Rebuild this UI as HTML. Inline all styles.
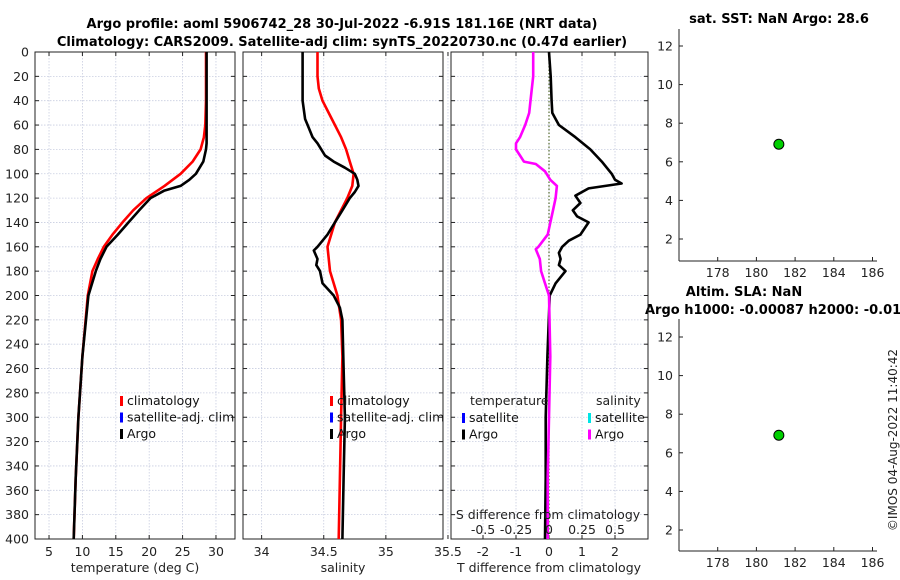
<!DOCTYPE html>
<html><head><meta charset="utf-8"><style>
html,body{margin:0;padding:0;background:#fff}
svg{display:block;font-family:"DejaVu Sans","Liberation Sans",sans-serif}
</style></head><body>
<svg id="fig" width="900" height="580" viewBox="0 0 900 580" xmlns="http://www.w3.org/2000/svg">
<text x="342" y="28" font-size="13" font-weight="bold" text-anchor="middle">Argo profile: aoml 5906742_28 30-Jul-2022 -6.91S 181.16E (NRT data)</text>
<text x="342" y="46" font-size="13" font-weight="bold" text-anchor="middle">Climatology: CARS2009. Satellite-adj clim: synTS_20220730.nc (0.47d earlier)</text>
<text x="779" y="23" font-size="13" font-weight="bold" text-anchor="middle">sat. SST: NaN Argo: 28.6</text>
<text x="744" y="296" font-size="13" font-weight="bold" text-anchor="middle">Altim. SLA: NaN</text>
<text x="645" y="314" font-size="13" font-weight="bold">Argo h1000: -0.00087 h2000: -0.01</text>
<text transform="translate(897,440) rotate(-90)" font-size="12" text-anchor="middle" fill="#222">©IMOS 04-Aug-2022 11:40:42</text>
</svg>
<script>
// ---- data ----
const depthTicks=[0,20,40,60,80,100,120,140,160,180,200,220,240,260,280,300,320,340,360,380,400];
const tempTicks=[5,10,15,20,25,30];
const salTicks=[34,34.5,35,35.5];
const tdTicks=[-2,-1,0,1,2];
const tdTickLabels=["-2","-1","0","1","2"];
const sdTicks=[-0.5,-0.25,0,0.25,0.5];
const sdTickLabels=["-0.5","-0.25","0","0.25","0.5"];
const argoTDepth=[0,20,40,60,75,80,90,100,105,110,114,120,130,140,150,160,170,180,200,250,300,350,400];
const argoT=[28.6,28.6,28.6,28.6,28.6,28.5,28.1,27.0,26.0,24.7,22.2,20.2,18.5,16.9,15.3,13.6,12.7,12.0,10.9,10.0,9.4,9.0,8.7];
const climTDepth=[0,20,40,60,70,80,90,100,110,120,130,140,150,160,170,180,200,250,300,350,400];
const climT=[28.5,28.5,28.5,28.4,28.2,27.7,26.5,24.7,22.3,19.6,17.6,16.0,14.5,13.2,12.3,11.5,10.8,10.0,9.4,9.0,8.7];
const argoSDepth=[0,20,40,55,60,70,75,80,85,90,95,100,105,110,115,120,130,140,150,155,160,163,170,175,180,190,200,210,220,260,300,350,400];
const argoS=[34.33,34.33,34.33,34.35,34.37,34.41,34.45,34.48,34.51,34.58,34.67,34.75,34.77,34.78,34.75,34.71,34.65,34.59,34.53,34.49,34.45,34.42,34.45,34.44,34.47,34.49,34.58,34.63,34.65,34.66,34.67,34.66,34.65];
const climSDepth=[0,20,30,40,50,60,70,80,90,100,110,120,140,160,180,200,220,250,300,350,400];
const climS=[34.45,34.45,34.46,34.49,34.54,34.59,34.64,34.68,34.71,34.74,34.73,34.69,34.59,34.53,34.55,34.61,34.64,34.65,34.64,34.63,34.62];
const tdDepth=[0,20,40,50,55,60,70,80,90,100,105,108,112,118,124,130,135,140,150,155,160,165,170,175,180,190,200,250,300,350,400];
const tdVal=[0.0,0.05,0.08,0.1,0.2,0.3,0.8,1.25,1.6,1.9,2.0,2.2,1.2,0.8,0.95,0.72,0.85,1.2,0.95,0.6,0.4,0.3,0.35,0.3,0.5,0.2,0.02,-0.05,-0.1,-0.1,-0.12];
const sdDepth=[0,20,40,50,60,70,75,80,85,90,92,98,105,110,120,130,150,160,162,170,180,190,200,250,300,350,400];
const sdVal=[-0.12,-0.12,-0.14,-0.15,-0.18,-0.22,-0.25,-0.25,-0.22,-0.19,-0.1,-0.03,0.01,0.06,0.05,0.03,-0.01,-0.08,-0.1,-0.07,-0.06,-0.03,0.0,0.01,0.0,-0.01,-0.01];
const mapXTicks=[178,180,182,184,186];
const mapYTicks=[2,4,6,8,10,12];
const argoLon=[181.16];
const argoLatAbs=[6.91];

const NS="http://www.w3.org/2000/svg";
const svg=document.getElementById('fig');
function mk(tag,attrs,parent){const e=document.createElementNS(NS,tag);for(const k in attrs)e.setAttribute(k,attrs[k]);(parent||svg).appendChild(e);return e;}
const Y0=52,Y1=539;
function yD(d){return Y0+d*(Y1-Y0)/400;}
function lin(a,b,p,q){return v=>p+(v-a)*(q-p)/(b-a);}

function profilePanel(name,x0,x1,xmin,xmax,ticks,labels,showDepthLabels){
  const g=mk('g',{});
  
  
  const sx=lin(xmin,xmax,x0,x1);
  ticks.forEach(t=>{const l=mk('line',{x1:sx(t),x2:sx(t),y1:Y0,y2:Y1,stroke:'#c8cde0','stroke-width':0.8,'stroke-dasharray':'1.5,1.5'},g);
    });
  depthTicks.forEach(d=>{const l=mk('line',{x1:x0,x2:x1,y1:yD(d),y2:yD(d),stroke:'#c8cde0','stroke-width':0.8,'stroke-dasharray':'1.5,1.5'},g);
    
    mk('line',{x1:x0,x2:x0+4,y1:yD(d),y2:yD(d),stroke:'#222'},g);mk('line',{x1:x1-4,x2:x1,y1:yD(d),y2:yD(d),stroke:'#222'},g);
    if(showDepthLabels){const t=mk('text',{x:x0-6,y:yD(d)+4.5,'font-size':12.5,'text-anchor':'end',fill:'#222'},g);t.textContent=d;
      }
  });
  ticks.forEach((t,i)=>{mk('line',{x1:sx(t),x2:sx(t),y1:Y1,y2:Y1-4,stroke:'#222'},g);mk('line',{x1:sx(t),x2:sx(t),y1:Y0,y2:Y0+4,stroke:'#222'},g);
    if(labels){const tx=mk('text',{x:sx(t),y:556,'font-size':12.5,'text-anchor':'middle',fill:'#222'},g);tx.textContent=labels[i];
      }});
  const r=mk('rect',{x:x0,y:Y0,width:x1-x0,height:Y1-Y0,fill:'none',stroke:'#222','stroke-width':1},g);
  
  return {g,sx};
}
function line(g,sx,vals,deps,color,name,w){
  const pts=vals.map((v,i)=>sx(v).toFixed(1)+','+yD(deps[i]).toFixed(1)).join(' ');
  const p=mk('polyline',{points:pts,fill:'none',stroke:color,'stroke-width':w||2.6,'stroke-linejoin':'round'},g);
  
}
function legend(g,x,y,items){
  items.forEach((it,i)=>{const yy=y+i*16.5;
    const b=mk('rect',{x:x,y:yy-8,width:3,height:10,fill:it[1]},g);
    
    const t=mk('text',{x:x+7,y:yy+1,'font-size':12.5,fill:'#111'},g);t.textContent=it[0];
    });
}
function txt(g,x,y,s,name,anchor){const t=mk('text',{x:x,y:y,'font-size':12.5,'text-anchor':anchor||'middle',fill:'#222'},g);t.textContent=s;
  return t;}

// temperature panel
const p1=profilePanel('temperature-panel',35,235,2.9,32.85,tempTicks,tempTicks.map(String),true);
line(p1.g,p1.sx,climT,climTDepth,'#ff0000','climatology-temperature-line');
line(p1.g,p1.sx,argoT,argoTDepth,'#000','argo-temperature-line');
legend(p1.g,120,404,[['climatology','#ff0000'],['satellite-adj. clim','#0000ff'],['Argo','#000']]);
txt(p1.g,135,572,'temperature (deg C)','temperature-axis-title');

// salinity panel
const p2=profilePanel('salinity-panel',243,443,33.85,35.46,salTicks,['34','34.5','35','35.5'],false);
line(p2.g,p2.sx,climS,climSDepth,'#ff0000','climatology-salinity-line');
line(p2.g,p2.sx,argoS,argoSDepth,'#000','argo-salinity-line');
legend(p2.g,330,404,[['climatology','#ff0000'],['satellite-adj. clim','#0000ff'],['Argo','#000']]);
txt(p2.g,343,572,'salinity','salinity-axis-title');

// difference panel
const p3=profilePanel('difference-panel',451,648,-2.97,3.0,tdTicks,tdTickLabels,false);
const z=mk('line',{x1:p3.sx(0),x2:p3.sx(0),y1:Y0,y2:Y1,stroke:'#556b2f','stroke-width':1.2,'stroke-dasharray':'1.5,2'},p3.g);

line(p3.g,p3.sx,tdVal,tdDepth,'#000','argo-temperature-difference-line');
const sxS=v=>p3.sx(v*4);
line(p3.g,sxS,sdVal,sdDepth,'#ff00ff','argo-salinity-difference-line');
txt(p3.g,470,405,'temperature','legend-temperature-header','start');
txt(p3.g,596,405,'salinity','legend-salinity-header','start');
legend(p3.g,462,421,[['satellite','#0000ff'],['Argo','#000']]);
legend(p3.g,588,421,[['satellite','#00e5e5'],['Argo','#ff00ff']]);
txt(p3.g,548,519,'S difference from climatology','s-diff-axis-title');
sdTicks.forEach((t,i)=>{txt(p3.g,sxS(t),534,sdTickLabels[i],'s-diff-tick-label');});
txt(p3.g,549,572,'T difference from climatology','t-diff-axis-title');

// map panels
function mapPanel(name,top,bot,y12,y2){
  const g=mk('g',{});
  
  
  const sx=lin(176,186,679,872.5);
  const sy=lin(2,12,y2,y12);
  mk('line',{x1:679,x2:679,y1:top,y2:bot,stroke:'#222'},g);
  mk('line',{x1:679,x2:877,y1:bot,y2:bot,stroke:'#222'},g);
  mapXTicks.forEach(t=>{mk('line',{x1:sx(t),x2:sx(t),y1:bot,y2:bot-4,stroke:'#222'},g);
    txt(g,sx(t),bot+16,String(t),'map-x-tick-label');});
  mapYTicks.forEach(t=>{mk('line',{x1:679,x2:683,y1:sy(t),y2:sy(t),stroke:'#222'},g);
    txt(g,673,sy(t)+4.5,String(t),'map-y-tick-label','end');});
  argoLon.forEach((lon,i)=>{const c=mk('circle',{cx:sx(lon),cy:sy(argoLatAbs[i]),r:5,fill:'#00d000',stroke:'#000','stroke-width':1},g);
    });
}
mapPanel('sst-map-panel',29,261,46,239);
mapPanel('sla-map-panel',319,551,337,530);
</script>
</body></html>
